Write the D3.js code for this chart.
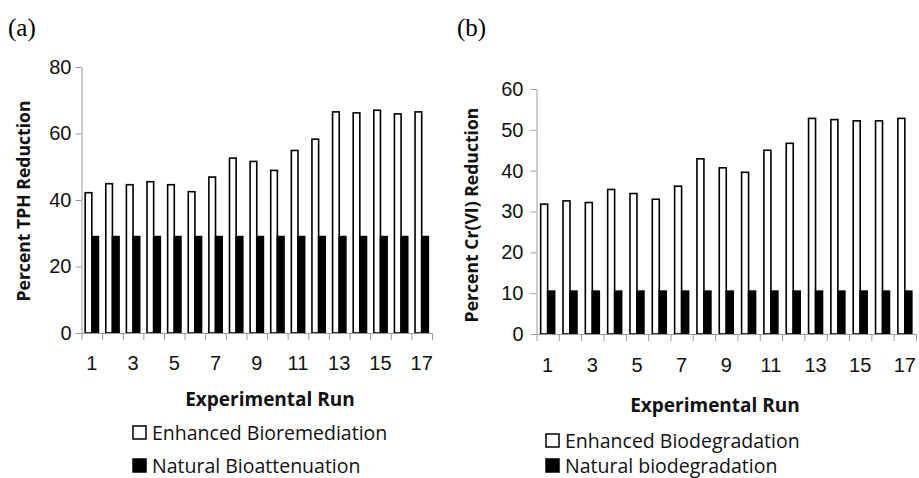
<!DOCTYPE html>
<html lang="en">
<head>
    <meta charset="UTF-8" />
    <title>Percent Reduction by Experimental Run</title>
    <script src="https://d3js.org/d3.v7.min.js"></script>
    <style>
        body {
            margin: 0;
            background: #fff;
        }
        svg {
            display: block;
            font-family: "Open Sans", sans-serif;
        }
        .axis path, .axis line {
            stroke: #9a9a9a;
        }
        .axis text {
            font-size: 20px;
            fill: #111;
        }
        .title {
            font-weight: bold;
            fill: #111;
        }
        .x-title { font-size: 19px; }
        .y-title { font-size: 17.6px; }
        .legend text {
            font-size: 19.5px;
            fill: #111;
        }
        .panel-label {
            font-family: "Liberation Serif", serif;
            font-size: 25px;
        }
    </style>
</head>
<body>
    <svg id="chart" width="919" height="478"></svg>

    <script>
        // experimental runs 1-17
        const runs = [1, 2, 3, 4, 5, 6, 7, 8, 9, 10, 11, 12, 13, 14, 15, 16, 17];
        const xTickRuns = [1, 3, 5, 7, 9, 11, 13, 15, 17];

        // (a) TPH reduction
        const tphEnhanced = [42.2, 44.9, 44.6, 45.5, 44.6, 42.5, 46.9, 52.6, 51.6, 48.9, 54.9, 58.3, 66.5, 66.2, 67.0, 65.9, 66.5];
        const tphNatural = [29, 29, 29, 29, 29, 29, 29, 29, 29, 29, 29, 29, 29, 29, 29, 29, 29];
        const tphTicks = [0, 20, 40, 60, 80];

        // (b) Cr(VI) reduction
        const crEnhanced = [31.8, 32.6, 32.2, 35.4, 34.4, 33.0, 36.2, 42.9, 40.7, 39.6, 45.0, 46.7, 52.8, 52.5, 52.2, 52.2, 52.8];
        const crNatural = [10.5, 10.5, 10.5, 10.5, 10.5, 10.5, 10.5, 10.5, 10.5, 10.5, 10.5, 10.5, 10.5, 10.5, 10.5, 10.5, 10.5];
        const crTicks = [0, 10, 20, 30, 40, 50, 60];

        const svg = d3.select("#chart");

        function drawPanel(p) {
            const g = svg.append("g");

            const x = d3.scaleBand()
                .domain(runs)
                .range([p.left, p.right]);

            // second scale just for the tick marks between categories
            const xEdges = d3.scaleLinear()
                .domain([0, runs.length])
                .range([p.left, p.right]);

            const inner = d3.scaleBand()
                .domain(["enh", "nat"])
                .range([0, x.bandwidth()])
                .paddingOuter(p.groupPad);

            const y = d3.scaleLinear()
                .domain([0, d3.max(p.ticks)])
                .range([p.bottom, p.top]);

            // bars
            const rows = runs.map((r, i) => ({ run: r, enh: p.enhanced[i], nat: p.natural[i] }));
            const grp = g.append("g").selectAll("g")
                .data(rows)
                .enter().append("g")
                .attr("transform", d => `translate(${x(d.run)},0)`);

            grp.append("rect")
                .attr("x", inner("enh"))
                .attr("y", d => y(d.enh))
                .attr("width", inner.bandwidth())
                .attr("height", d => y(0) - y(d.enh))
                .attr("fill", "#fff")
                .attr("stroke", "#000")
                .attr("stroke-width", 1.6);

            grp.append("rect")
                .attr("x", inner("nat"))
                .attr("y", d => y(d.nat))
                .attr("width", inner.bandwidth())
                .attr("height", d => y(0) - y(d.nat))
                .attr("fill", "#000")
                .attr("stroke", "#000")
                .attr("stroke-width", 1.6);

            // y axis
            g.append("g")
                .attr("class", "axis")
                .attr("transform", `translate(${p.left},0)`)
                .call(d3.axisLeft(y).tickValues(p.ticks).tickSize(6).tickSizeOuter(0).tickPadding(p.yPad));

            // x axis: tick marks on category edges
            g.append("g")
                .attr("class", "axis")
                .attr("transform", `translate(0,${p.bottom})`)
                .call(d3.axisBottom(xEdges).ticks(runs.length).tickFormat("").tickSize(7).tickSizeOuter(0));

            // x axis: labels at category centres
            g.append("g")
                .attr("class", "axis")
                .attr("transform", `translate(0,${p.bottom})`)
                .call(d3.axisBottom(x).tickValues(xTickRuns).tickSize(0).tickPadding(p.xPad))
                .call(a => a.select(".domain").remove());

            // axis titles
            g.append("text")
                .attr("class", "title x-title")
                .attr("x", p.xTitleX)
                .attr("y", p.xTitleY)
                .attr("text-anchor", "middle")
                .text("Experimental Run");

            g.append("text")
                .attr("class", "title y-title")
                .attr("transform", `translate(${p.yTitleX},${p.yTitleY}) rotate(-90)`)
                .attr("text-anchor", "middle")
                .text(p.yTitle);

            // panel label
            g.append("text")
                .attr("class", "panel-label")
                .attr("x", p.labelX)
                .attr("y", 36)
                .text(p.label);

            // legend
            const leg = g.append("g").attr("class", "legend");
            p.legend.forEach((name, i) => {
                const ly = p.legendY[i];
                leg.append("rect")
                    .attr("x", p.legendX)
                    .attr("y", ly - 14)
                    .attr("width", 13)
                    .attr("height", 13)
                    .attr("fill", i === 0 ? "#fff" : "#000")
                    .attr("stroke", "#000")
                    .attr("stroke-width", 1.5);
                leg.append("text")
                    .attr("x", p.legendX + 19)
                    .attr("y", ly)
                    .text(name);
            });
        }

        drawPanel({
            label: "(a)", labelX: 8,
            left: 81.5, right: 432, top: 67, bottom: 333,
            ticks: tphTicks, enhanced: tphEnhanced, natural: tphNatural,
            groupPad: 0.55, yPad: 4, xPad: 23,
            yTitle: "Percent TPH Reduction", yTitleX: 30, yTitleY: 201,
            xTitleX: 270, xTitleY: 406,
            legend: ["Enhanced Bioremediation", "Natural Bioattenuation"],
            legendX: 133, legendY: [440, 473]
        });

        drawPanel({
            label: "(b)", labelX: 457,
            left: 536.5, right: 916, top: 89, bottom: 334,
            ticks: crTicks, enhanced: crEnhanced, natural: crNatural,
            groupPad: 0.6, yPad: 7, xPad: 24,
            yTitle: "Percent Cr(VI) Reduction", yTitleX: 478, yTitleY: 215,
            xTitleX: 715, xTitleY: 412,
            legend: ["Enhanced Biodegradation", "Natural biodegradation"],
            legendX: 546, legendY: [448, 473]
        });
    </script>
</body>
</html>
